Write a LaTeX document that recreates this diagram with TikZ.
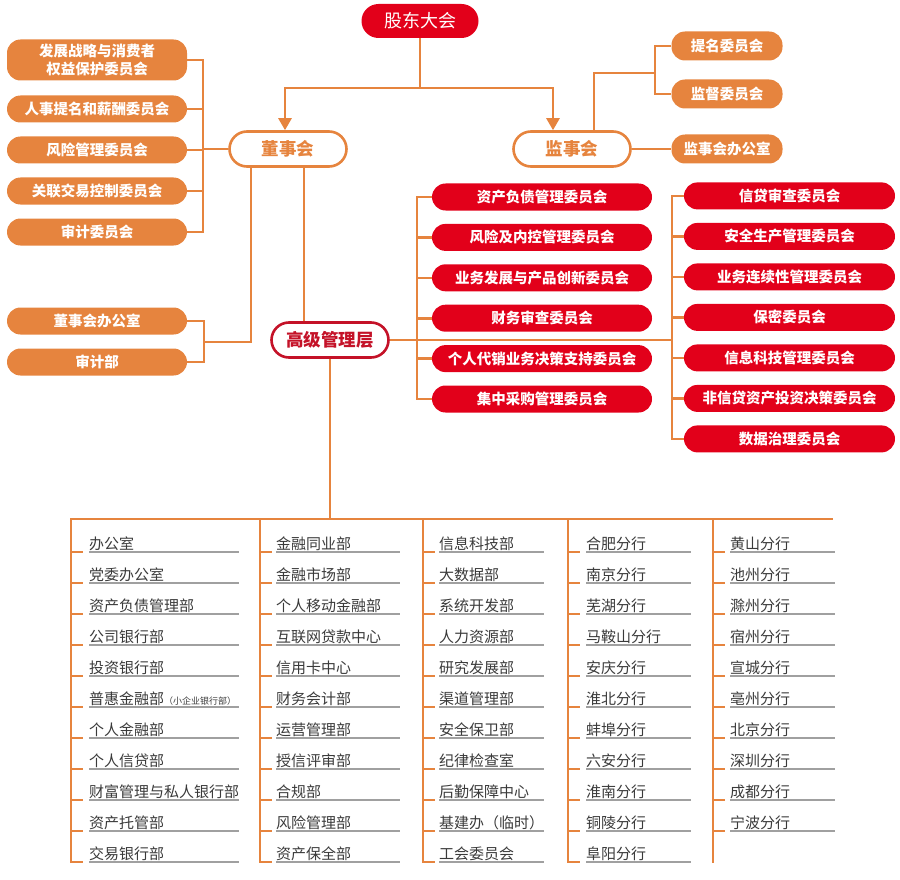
\documentclass[tikz,border=0pt]{standalone}
\usepackage{fontspec}
\setmainfont{Noto Sans CJK SC}
\usetikzlibrary{arrows.meta,positioning}
\definecolor{BankRed}{RGB}{226,0,26}
\definecolor{DeepRed}{RGB}{196,18,40}
\definecolor{BankOrange}{RGB}{230,132,62}
\definecolor{TextGray}{RGB}{58,58,58}
\definecolor{RuleGray}{RGB}{160,160,160}
\tikzset{
  topbox/.style={fill=BankRed,rounded corners=17pt,minimum height=34pt,
    minimum width=117pt,inner sep=0pt,text=white,
    font=\fontsize{18}{20}\selectfont},
  boardbox/.style={draw=BankOrange,line width=2.6pt,fill=white,rounded corners=17.5pt,
    minimum height=35pt,minimum width=117pt,inner sep=0pt,text=BankOrange,
    font=\fontsize{17.5}{20}\selectfont\bfseries},
  mgmtbox/.style={boardbox,draw=DeepRed,text=DeepRed},
  orangepill/.style={fill=BankOrange,rounded corners=13.5pt,minimum height=27pt,
    inner sep=0pt,text=white,align=center,font=\fontsize{14.5}{18}\selectfont\bfseries},
  redpill/.style={orangepill,fill=BankRed},
  line/.style={draw=BankOrange,line width=2.6pt},
  arrow/.style={line,-{Triangle[width=13pt,length=12pt]}},
  dept/.style={anchor=south west,inner xsep=0pt,inner ysep=1pt,text=TextGray,
    align=left,font=\fontsize{15}{17}\selectfont},
  uline/.style={draw=RuleGray,line width=1.6pt}
}
\begin{document}
\begin{tikzpicture}[x=1pt,y=-1pt]
\useasboundingbox (0,0) rectangle (900,880);

% top levels
\node[topbox] (gd) at (420,21) {股东大会};
\node[boardbox] (dsh) at (288,149) {董事会};
\node[boardbox] (jsh) at (572,149) {监事会};
\node[mgmtbox] (gjglc) at (330,340) {高级管理层};

\coordinate (gdsplit) at (420,88);
\draw[line] (gd) -- (gdsplit);
\draw[arrow] (gdsplit) -| ([xshift=-3pt]dsh.north);
\draw[arrow] (gdsplit) -| ([xshift=-19pt]jsh.north);

% board committees
\node[orangepill,minimum width=180pt,minimum height=41pt] (lc1) at (97,60) {发展战略与消费者\\权益保护委员会};
\node[orangepill,minimum width=180pt] (lc2) at (97,109) {人事提名和薪酬委员会};
\node[orangepill,minimum width=180pt] (lc3) at (97,150) {风险管理委员会};
\node[orangepill,minimum width=180pt] (lc4) at (97,191) {关联交易控制委员会};
\node[orangepill,minimum width=180pt] (lc5) at (97,232) {审计委员会};
\coordinate (lbr) at (203,149);
\draw[line] (dsh.west) -- (lbr);
\foreach \i in {1,...,5}
  \draw[line] (lc\i.east) -| (lbr);

\node[orangepill,minimum width=180pt] (dbo) at (97,321) {董事会办公室};
\node[orangepill,minimum width=180pt] (sjb) at (97,362) {审计部};
\coordinate (dbr) at (204,342);
\draw[line] ([xshift=-37pt]dsh.south) |- (dbr);
\draw[line] (dbo.east) -| (dbr);
\draw[line] (sjb.east) -| (dbr);
\draw[line] ([xshift=16pt]dsh.south) -- ([xshift=16pt]dsh.south |- gjglc.north);

% supervisory board
\node[orangepill,minimum width=111pt,minimum height=29pt] (tm) at (727,46) {提名委员会};
\node[orangepill,minimum width=111pt,minimum height=29pt] (jd) at (727,94) {监督委员会};
\node[orangepill,minimum width=111pt,minimum height=29pt] (jbo) at (727,149) {监事会办公室};
\coordinate (jbr) at (655,73);
\draw[line] ([xshift=22pt]jsh.north) |- (jbr);
\draw[line] (tm.west) -| (jbr);
\draw[line] (jd.west) -| (jbr);
\draw[line] (jsh.east) -- (jbo.west);

% management committees
\coordinate (mbr) at (417,340);
\coordinate (rbr) at (672,340);
\draw[line] (gjglc.east) -- (rbr);
\foreach \t [count=\i] in {资产负债管理委员会,风险及内控管理委员会,业务发展与产品创新委员会,
    财务审查委员会,个人代销业务决策支持委员会,集中采购管理委员会}{
  \node[redpill,minimum width=220pt] (mc\i) at (542,{156.6+40.4*\i}) {\t};
  \draw[line] (mc\i.west) -| (mbr);
}
\foreach \t [count=\i] in {信贷审查委员会,安全生产管理委员会,业务连续性管理委员会,保密委员会,
    信息科技管理委员会,非信贷资产投资决策委员会,数据治理委员会}{
  \node[redpill,minimum width=211pt] (rc\i) at (789.5,{155.4+40.5*\i}) {\t};
  \draw[line] (rc\i.west) -| (rbr);
}

% departments and branches
\coordinate (busR) at (833,519);
\draw[line] (gjglc.south) -- (gjglc.south |- busR);
\draw[line] (71,863) |- (busR);
\foreach \cx in {260,423,568,713}
  \draw[line] (\cx,519) -- (\cx,863);

\foreach \t [count=\i] in {办公室,党委办公室,资产负债管理部,公司银行部,投资银行部,
    普惠金融部{\fontsize{9}{10}\selectfont（小企业银行部）},个人金融部,个人信贷部,
    财富管理与私人银行部,资产托管部,交易银行部}{
  \node[dept,text width=150pt] (ca\i) at (89,{521+31*\i}) {\t};
  \draw[uline] (ca\i.south west) -- (ca\i.south east);
  \draw[line] (ca\i.south west -| 71,0) -- ([xshift=-6pt]ca\i.south west);
}
\foreach \t [count=\i] in {金融同业部,金融市场部,个人移动金融部,互联网贷款中心,信用卡中心,
    财务会计部,运营管理部,授信评审部,合规部,风险管理部,资产保全部}{
  \node[dept,text width=124pt] (cb\i) at (276,{521+31*\i}) {\t};
  \draw[uline] (cb\i.south west) -- (cb\i.south east);
  \draw[line] (cb\i.south west -| 260,0) -- ([xshift=-4pt]cb\i.south west);
}
\foreach \t [count=\i] in {信息科技部,大数据部,系统开发部,人力资源部,研究发展部,渠道管理部,
    安全保卫部,纪律检查室,后勤保障中心,基建办（临时）,工会委员会}{
  \node[dept,text width=105pt] (cc\i) at (439,{521+31*\i}) {\t};
  \draw[uline] (cc\i.south west) -- (cc\i.south east);
  \draw[line] (cc\i.south west -| 423,0) -- ([xshift=-4pt]cc\i.south west);
}
\foreach \t [count=\i] in {合肥分行,南京分行,芜湖分行,马鞍山分行,安庆分行,淮北分行,
    蚌埠分行,六安分行,淮南分行,铜陵分行,阜阳分行}{
  \node[dept,text width=105pt] (cd\i) at (586,{521+31*\i}) {\t};
  \draw[uline] (cd\i.south west) -- (cd\i.south east);
  \draw[line] (cd\i.south west -| 568,0) -- ([xshift=-6pt]cd\i.south west);
}
\foreach \t [count=\i] in {黄山分行,池州分行,滁州分行,宿州分行,宣城分行,亳州分行,
    北京分行,深圳分行,成都分行,宁波分行}{
  \node[dept,text width=105pt] (ce\i) at (730,{521+31*\i}) {\t};
  \draw[uline] (ce\i.south west) -- (ce\i.south east);
  \draw[line] (ce\i.south west -| 713,0) -- ([xshift=-5pt]ce\i.south west);
}
\end{tikzpicture}
\end{document}
